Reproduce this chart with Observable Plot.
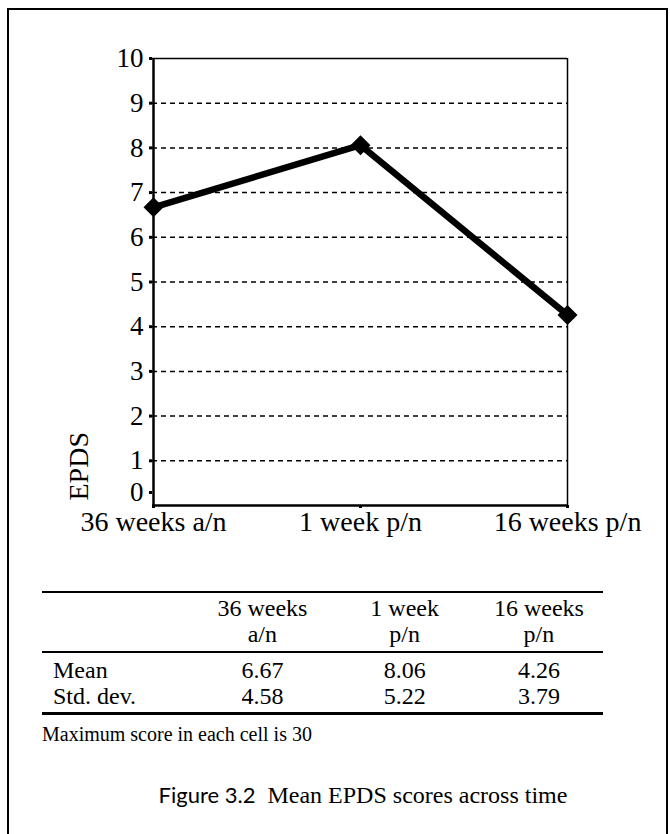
<!DOCTYPE html>
<html>
<head>
<meta charset="utf-8">
<script src="https://cdn.jsdelivr.net/npm/d3@7"></script>
<script src="https://cdn.jsdelivr.net/npm/@observablehq/plot@0.6"></script>
<style>
  body { margin: 0; background: #fff; width: 670px; height: 834px; position: relative; overflow: hidden; font-family: "Liberation Serif", "DejaVu Serif", serif; }
  #frame { position: absolute; left: 7px; top: 8px; width: 661px; height: 840px; border: 2px solid #000; border-bottom: none; box-sizing: border-box; }
  #chart { position: absolute; left: 0; top: 0; }
  #tbl { position: absolute; left: 42px; top: 591px; width: 561px; border-collapse: collapse; table-layout: fixed; font-size: 24px; color: #000; }
  #tbl td, #tbl th { font-weight: normal; padding: 0; line-height: 26px; white-space: nowrap; }
  #tbl thead tr.top th { border-top: 2.5px solid #000; padding-top: 2px; }
  #tbl thead tr.bot th { border-bottom: 2px solid #000; padding-bottom: 4px; }
  #tbl tbody tr.first td { padding-top: 4px; }
  #tbl tbody tr.last td { border-bottom: 3px solid #000; padding-bottom: 3px; }
  #tbl .lab { text-align: left; padding-left: 11px; }
  #tbl .c { text-align: center; }
  #tbl .c3 { padding-right: 12px; }
  #note { position: absolute; left: 42px; top: 723px; font-size: 20px; }
  #cap { position: absolute; left: 28px; width: 670px; top: 781px; text-align: center; font-size: 24px; }
  #cap .fig { font-family: "Lato", "DejaVu Sans", sans-serif; font-size: 22px; }
</style>
</head>
<body>
<div id="frame"></div>
<div id="chart"></div>
<table id="tbl"></table>
<div id="note"></div>
<div id="cap"></div>
<script>
const categories = ["36 weeks a/n", "1 week p/n", "16 weeks p/n"];
const headerLine1 = ["36 weeks", "1 week", "16 weeks"];
const headerLine2 = ["a/n", "p/n", "p/n"];
const meanValues = [6.67, 8.06, 4.26];
const sdValues = [4.58, 5.22, 3.79];
const yTicks = [1, 2, 3, 4, 5, 6, 7, 8, 9, 10];
const yZeroTick = [0];
const gridValues = [1, 2, 3, 4, 5, 6, 7, 8, 9];
const yLabel = "EPDS";
const noteText = "Maximum score in each cell is 30";
const captionFig = "Figure 3.2";
const captionText = "Mean EPDS scores across time";

const data = categories.map((c, i) => ({cat: c, mean: meanValues[i]}));

const chart = Plot.plot({
  width: 670,
  height: 560,
  marginLeft: 152,
  marginRight: 103,
  marginTop: 58,
  marginBottom: 55,
  style: {fontFamily: "Liberation Serif, serif", fontSize: "27px", color: "#000", background: "transparent", overflow: "visible"},
  x: {type: "point", domain: categories, padding: 0},
  y: {domain: [0, 10]},
  marks: [
    Plot.ruleY(gridValues, {stroke: "#000", strokeWidth: 1.5, strokeDasharray: "5,4"}),
    Plot.ruleY([10], {stroke: "#000", strokeWidth: 1.5}),
    Plot.ruleX([categories[2]], {stroke: "#000", strokeWidth: 1.5}),
    Plot.axisY({ticks: yTicks, tickSize: 3, tickPadding: 6, tickFormat: d => String(d), label: null, fontSize: 27, strokeWidth: 3}),
    Plot.axisY({ticks: yZeroTick, tickSize: 3, tickPadding: 6, tickFormat: d => String(d), label: null, fontSize: 27, strokeWidth: 3, dy: -13}),
    Plot.axisX({tickSize: 3, tickPadding: 3, label: null, fontSize: 28, strokeWidth: 3}),
    Plot.text([yLabel], {frameAnchor: "bottom-left", rotate: -90, textAnchor: "start", dx: -65, dy: -5, fontSize: 28}),
    Plot.ruleX([categories[0]], {stroke: "#000", strokeWidth: 2.5}),
    Plot.ruleY([0], {stroke: "#000", strokeWidth: 2.5}),
    Plot.line(data, {x: "cat", y: "mean", stroke: "#000", strokeWidth: 6.5}),
    Plot.dot(data, {x: "cat", y: "mean", symbol: "diamond2", r: 9, fill: "#000", stroke: "none"})
  ]
});
document.getElementById("chart").appendChild(chart);

// table
const tbl = document.getElementById("tbl");
const colgroup = document.createElement("colgroup");
[160, 120, 164, 116].forEach(w => { const c = document.createElement("col"); c.style.width = w + "px"; colgroup.appendChild(c); });
tbl.appendChild(colgroup);
const thead = document.createElement("thead");
const r1 = document.createElement("tr"); r1.className = "top";
const r2 = document.createElement("tr"); r2.className = "bot";
[["", ...headerLine1], ["", ...headerLine2]].forEach((row, ri) => {
  const tr = ri === 0 ? r1 : r2;
  row.forEach((t, i) => {
    const th = document.createElement("th");
    th.textContent = t;
    th.className = i === 0 ? "lab" : (i === 3 ? "c c3" : "c");
    tr.appendChild(th);
  });
});
thead.appendChild(r1); thead.appendChild(r2);
tbl.appendChild(thead);
const tbody = document.createElement("tbody");
[["Mean", meanValues], ["Std. dev.", sdValues]].forEach(([lab, vals], ri) => {
  const tr = document.createElement("tr");
  tr.className = ri === 0 ? "first" : "last";
  const td0 = document.createElement("td"); td0.className = "lab"; td0.textContent = lab; tr.appendChild(td0);
  vals.forEach((v, i) => {
    const td = document.createElement("td"); td.className = i === 2 ? "c c3" : "c"; td.textContent = v.toFixed(2);
    tr.appendChild(td);
  });
  tbody.appendChild(tr);
});
tbl.appendChild(tbody);

document.getElementById("note").textContent = noteText;
const cap = document.getElementById("cap");
const s1 = document.createElement("span"); s1.className = "fig"; s1.textContent = captionFig;
cap.appendChild(s1);
cap.appendChild(document.createTextNode("\u00a0 " + captionText));
</script>
</body>
</html>
